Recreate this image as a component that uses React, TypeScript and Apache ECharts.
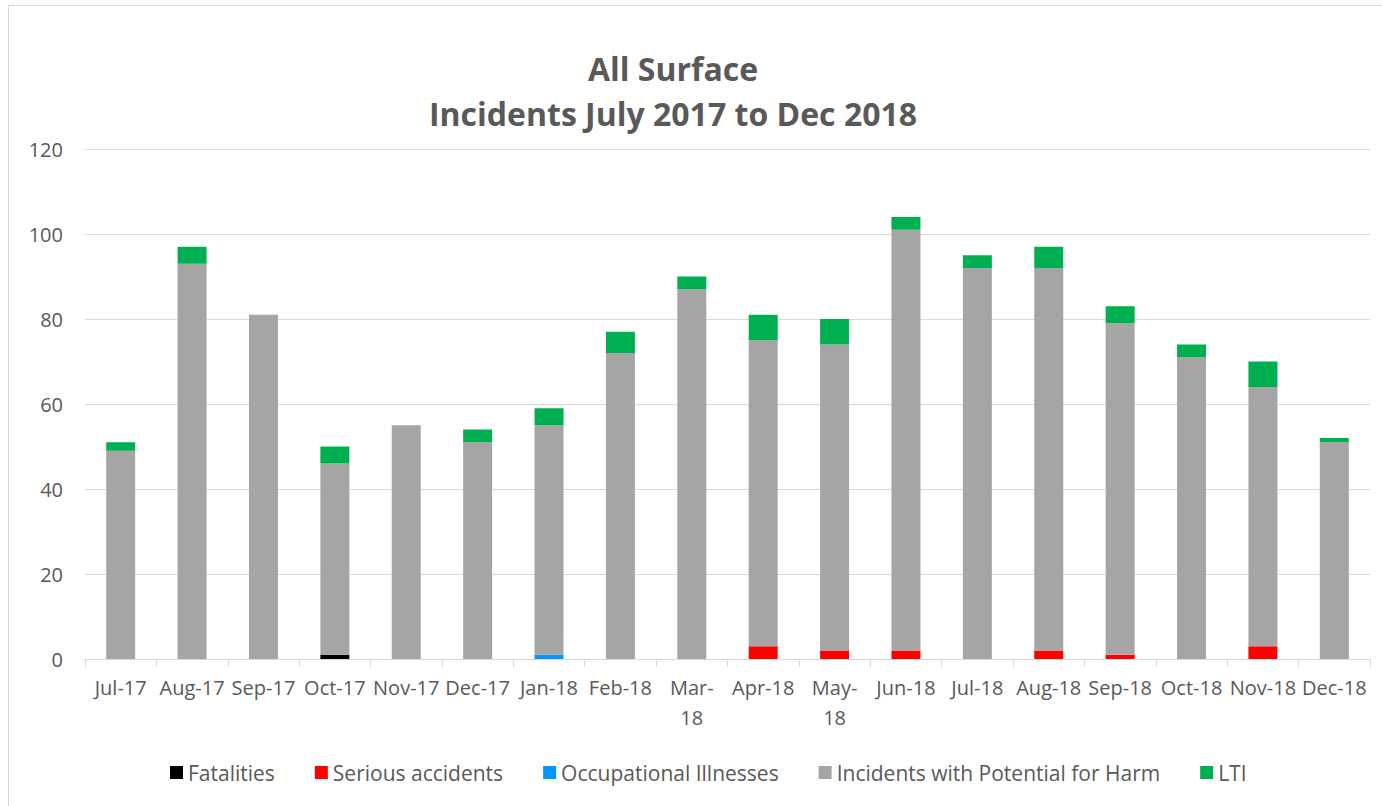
import React, { useEffect, useRef } from "react";
import * as echarts from "echarts";

const categories = ["Jul-17","Aug-17","Sep-17","Oct-17","Nov-17","Dec-17","Jan-18","Feb-18","Mar-18","Apr-18","May-18","Jun-18","Jul-18","Aug-18","Sep-18","Oct-18","Nov-18","Dec-18"];
const fatalities = [0,0,0,1,0,0,0,0,0,0,0,0,0,0,0,0,0,0];
const seriousAccidents = [0,0,0,0,0,0,0,0,0,3,2,2,0,2,1,0,3,0];
const occupationalIllnesses = [0,0,0,0,0,0,1,0,0,0,0,0,0,0,0,0,0,0];
const potentialForHarm = [49,93,81,45,55,51,54,72,87,72,72,99,92,90,78,71,61,51];
const lti = [2,4,0,4,0,3,4,5,3,6,6,3,3,5,4,3,6,1];
const yTicks = [0, 20, 40, 60, 80, 100, 120];
const wrapLabels = ["Mar-18", "May-18"];

const FONT = "'Open Sans', Lato, sans-serif";
const TXT = "#595959";

export default function App() {
  const ref = useRef<HTMLDivElement>(null);
  useEffect(() => {
    if (!ref.current) return;
    const chart = echarts.init(ref.current, undefined, { renderer: "svg" });
    const mk = (name: string, data: number[], color: string) => ({
      name,
      type: "bar",
      stack: "total",
      data,
      barWidth: 29,
      itemStyle: { color },
      emphasis: { disabled: true },
    });
    chart.setOption({
      animation: false,
      textStyle: { fontFamily: FONT },
      title: {
        text: "All Surface\nIncidents July 2017 to Dec 2018",
        left: 659,
        textAlign: "center",
        top: 35,
        textStyle: {
          fontFamily: FONT,
          fontSize: 32,
          fontWeight: "bold",
          color: TXT,
          lineHeight: 45,
        },
      },
      legend: {
        bottom: 18,
        left: 156,
        itemWidth: 13,
        itemHeight: 13,
        itemGap: 40,
        icon: "rect",
        textStyle: { fontFamily: FONT, fontSize: 21, color: TXT },
      },
      grid: { left: 76, right: 12, top: 143, bottom: 147, containLabel: false },
      xAxis: {
        type: "category",
        data: categories,
        axisLine: { lineStyle: { color: "#d9d9d9", width: 1 } },
        axisTick: { show: true, length: 8, lineStyle: { color: "#d9d9d9" } },
        axisLabel: {
          fontFamily: FONT,
          fontSize: 20,
          color: TXT,
          margin: 13,
          interval: 0,
          lineHeight: 30,
          formatter: (v: string) => (wrapLabels.includes(v) ? v.replace("-", "-\n") : v),
        },
      },
      yAxis: {
        type: "value",
        min: yTicks[0],
        max: yTicks[yTicks.length - 1],
        interval: 20,
        axisLine: { show: false },
        axisTick: { show: false },
        splitLine: { lineStyle: { color: "#d9d9d9", width: 1 } },
        axisLabel: { fontFamily: FONT, fontSize: 20, color: TXT, margin: 22 },
      },
      series: [
        mk("Fatalities", fatalities, "#000000"),
        mk("Serious accidents", seriousAccidents, "#ff0000"),
        mk("Occupational Illnesses", occupationalIllnesses, "#0096ff"),
        mk("Incidents with Potential for Harm", potentialForHarm, "#a5a5a5"),
        mk("LTI", lti, "#00b050"),
      ],
    });
    return () => chart.dispose();
  }, []);
  return (
    <div
      style={{
        position: "absolute",
        left: 8,
        top: 5,
        width: 1373,
        height: 800,
        borderLeft: "1px solid #d9d9d9",
        borderTop: "1px solid #d9d9d9",
        background: "#fff",
      }}
    >
      <div ref={ref} style={{ width: 1373, height: 800 }} />
    </div>
  );
}
